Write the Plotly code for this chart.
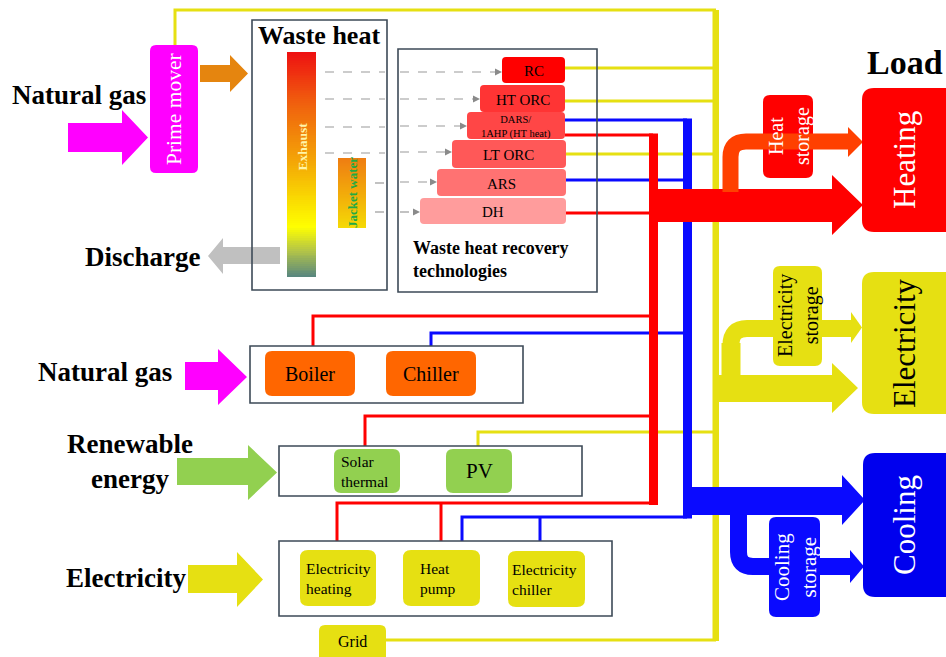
import numpy as np
import plotly.graph_objects as go

# ---------------- data (labels) ----------------
source_labels = ["Natural gas", "Natural gas", "Renewable<br>energy", "Electricity"]
prime_label = "Prime mover"
waste_title = "Waste heat"
waste_streams = ["Exhaust", "Jacket water"]
discharge_label = "Discharge"
tech_labels = ["RC", "HT ORC", "DARS/<br>1AHP (HT heat)", "LT ORC", "ARS", "DH"]
tech_output = ["power", "power", "cool+heat", "power", "cool", "heat"]
tech_caption = "Waste heat recovery<br>technologies"
gas_devices = ["Boiler", "Chiller"]
renew_devices = ["Solar<br>thermal", "PV"]
elec_devices = ["Electricity<br>heating", "Heat<br>pump", "Electricity<br>chiller"]
grid_label = "Grid"
load_title = "Load"
load_labels = ["Heating", "Electricity", "Cooling"]
storage_labels = ["Heat<br>storage", "Electricity<br>storage", "Cooling<br>storage"]

# ---------------- styles ----------------
SERIF = "Liberation Serif"
RED = "#ff0000"
BLUE = "#0a0aff"
YEL = "#e6e012"
MAG = "#ff00ff"
GREEN = "#92d050"
ORANGE = "#ff6600"
EDGE = "#3d4a57"

W, H = 946, 657
fig = go.Figure()
shapes = []
ann = []


def rrect(x0, y0, x1, y1, r):
    return (f"M{x0+r},{y0} L{x1-r},{y0} Q{x1},{y0} {x1},{y0+r} L{x1},{y1-r} "
            f"Q{x1},{y1} {x1-r},{y1} L{x0+r},{y1} Q{x0},{y1} {x0},{y1-r} "
            f"L{x0},{y0+r} Q{x0},{y0} {x0+r},{y0} Z")


def add_rrect(x0, y0, x1, y1, r, fill, line=None, lw=0):
    shapes.append(dict(type="path", path=rrect(x0, y0, x1, y1, r), fillcolor=fill,
                       line=dict(color=line or fill, width=lw)))


def add_box(x0, y0, x1, y1):
    shapes.append(dict(type="rect", x0=x0, y0=y0, x1=x1, y1=y1,
                       fillcolor="rgba(0,0,0,0)", line=dict(color=EDGE, width=1.6)))


def add_line(pts, color, width, dash=None):
    p = "M" + " L".join(f"{x},{y}" for x, y in pts)
    shapes.append(dict(type="path", path=p, fillcolor="rgba(0,0,0,0)",
                       line=dict(color=color, width=width, dash=dash or "solid")))


def poly(pts, color):
    p = "M" + " L".join(f"{x},{y}" for x, y in pts) + " Z"
    shapes.append(dict(type="path", path=p, fillcolor=color, line=dict(color=color, width=0)))


def right_arrow(x0, xb, xt, b0, b1, h0, h1, color):
    poly([(x0, b0), (xb, b0), (xb, h0), (xt, (h0 + h1) / 2), (xb, h1), (xb, b1), (x0, b1)], color)


def left_arrow(x0, xb, xt, b0, b1, h0, h1, color):
    poly([(x0, b0), (xb, b0), (xb, h0), (xt, (h0 + h1) / 2), (xb, h1), (xb, b1), (x0, b1)], color)


def text(x, y, s, size, color="black", bold=False, angle=0, xanchor="center", align="center"):
    if bold:
        s = "<b>" + s.replace("<br>", "</b><br><b>") + "</b>"
    ann.append(dict(x=x, y=y, text=s, showarrow=False, textangle=angle, xanchor=xanchor,
                    yanchor="middle", align=align,
                    font=dict(family=SERIF, size=size, color=color)))


def gradient(x0, x1, y0, y1, stops):
    n = 120
    edges = np.linspace(y0, y1, n + 1)
    z = [[v] for v in np.linspace(0, 1, n)]
    fig.add_trace(go.Heatmap(z=z, x=[x0, x1], y=edges, colorscale=stops, zmin=0, zmax=1,
                             showscale=False, hoverinfo="skip"))


# ---------------- gradients ----------------
gradient(287, 316, 52, 277, [[0, "#ee1111"], [0.22, "#f05e0e"], [0.5, "#f4aa06"],
                             [0.7, "#fbe800"], [0.78, "#ffff00"], [0.88, "#b8c844"],
                             [1, "#5a887e"]])
gradient(338, 366, 158, 228, [[0, "#ef7d12"], [0.5, "#f2aa0a"], [1, "#f5da06"]])

# ---------------- thin lines ----------------
add_line([(175, 45), (175, 10), (716, 10)], YEL, 3)
# from recovery technologies
add_line([(565, 68), (716, 68)], YEL, 3)
add_line([(565, 101), (716, 101)], YEL, 3)
add_line([(565, 154), (716, 154)], YEL, 3)
add_line([(565, 120), (687, 120)], BLUE, 3)
add_line([(565, 180), (687, 180)], BLUE, 3)
add_line([(565, 135), (653, 135)], RED, 3)
add_line([(565, 213), (653, 213)], RED, 3)
# devices
add_line([(313, 346), (313, 316), (653, 316)], RED, 3)
add_line([(431, 346), (431, 333), (687, 333)], BLUE, 3)
add_line([(365, 446), (365, 416), (653, 416)], RED, 3)
add_line([(478, 446), (478, 432), (716, 432)], YEL, 3)
add_line([(337, 541), (337, 503), (653, 503)], RED, 3)
add_line([(441, 541), (441, 503)], RED, 3)
add_line([(462, 541), (462, 517), (687, 517)], BLUE, 3)
add_line([(540, 541), (540, 517)], BLUE, 3)
add_line([(386, 640), (716, 640)], YEL, 3)

# dashed heat transfer lines
for y in [72, 99, 127, 153]:
    add_line([(325, y), (385, y)], "#9a9a9a", 1.2, "dash")
for y in [183, 212]:
    add_line([(375, y), (385, y)], "#9a9a9a", 1.2, "dash")
tech_geo = [(502, 57, 565, 83, "#ff0000"), (480, 85, 565, 112, "#ff3434"),
            (467, 112, 565, 139, "#ff4646"), (452, 140, 566, 168, "#ff5858"),
            (437, 169, 566, 196, "#ff7272"), (420, 198, 566, 224, "#ff9c9c")]
dash_y = [72, 99, 126, 152, 182, 212]
for (x0, y0, x1, y1, c), y in zip(tech_geo, dash_y):
    add_line([(400, y), (x0 - 6, y)], "#9a9a9a", 1.2, "dash")
    poly([(x0 - 7, y - 3.5), (x0, y), (x0 - 7, y + 3.5)], "#8a8a8a")

# ---------------- trunks ----------------
shapes.append(dict(type="rect", x0=712.5, x1=719, y0=10, y1=641, fillcolor=YEL, line=dict(width=0)))
shapes.append(dict(type="rect", x0=649, x1=658, y0=133.5, y1=505, fillcolor=RED, line=dict(width=0)))
shapes.append(dict(type="rect", x0=683, x1=692, y0=118.5, y1=518.5, fillcolor=BLUE, line=dict(width=0)))

# ---------------- big arrows to loads ----------------
# electricity
add_line([(731, 380), (731, 343), ], YEL, 19)
shapes.append(dict(type="path", path="M731,345 Q731,328.5 747,328.5 L853,328.5",
                   fillcolor="rgba(0,0,0,0)", line=dict(color=YEL, width=17)))
poly([(851, 312), (862, 327.5), (851, 343)], YEL)
right_arrow(716, 832, 858, 375, 402, 363, 413, YEL)
# heating
right_arrow(649, 832, 863, 189, 222, 175, 235, RED)
# cooling
right_arrow(684, 842, 865, 487, 515, 475, 525, BLUE)
shapes.append(dict(type="path", path="M738.5,512 L738.5,552 Q738.5,566.5 753,566.5 L851,566.5",
                   fillcolor="rgba(0,0,0,0)", line=dict(color=BLUE, width=17)))
poly([(850, 550), (864, 566.5), (850, 583)], BLUE)

# heat storage
add_rrect(763, 95, 813, 178, 7, RED)
shapes.append(dict(type="path", path="M730.5,192 L730.5,157 Q730.5,141.5 746,141.5 L849,141.5",
                   fillcolor="rgba(0,0,0,0)", line=dict(color="#ff4000", width=16)))
poly([(848, 127), (863, 142), (848, 157)], "#ff4000")
# electricity storage / cooling storage
add_rrect(773, 266, 822, 366, 7, YEL)
add_rrect(769, 517, 820, 617, 7, BLUE)

# load boxes
add_rrect(862, 88, 960, 232, 12, RED)
add_rrect(862, 272, 960, 414, 12, YEL)
add_rrect(863, 453, 960, 597, 12, "#0000ee")

# ---------------- left side ----------------
add_rrect(150, 45, 198, 173, 6, MAG)
right_arrow(68, 122, 148, 123, 152, 110, 165, MAG)
right_arrow(200, 230, 248, 65, 82, 55, 92, "#e5850f")
left_arrow(280, 223, 208, 247, 264, 238, 274, "#c0c0c0")
right_arrow(185, 218, 247, 362, 390, 349, 405, MAG)
right_arrow(177, 248, 277, 458, 485, 445, 500, GREEN)
right_arrow(188, 237, 263, 565, 593, 552, 607, YEL)

# outline boxes
add_box(252, 20, 387, 290)
add_box(398, 49, 597, 292)
add_box(250, 346, 523, 403)
add_box(279, 446, 582, 496)
add_box(279, 541, 612, 616)

# tech boxes
for (x0, y0, x1, y1, c) in tech_geo:
    add_rrect(x0, y0, x1, y1, 4, c)

# devices
add_rrect(265, 351, 355, 396, 7, ORANGE)
add_rrect(386, 351, 476, 396, 7, ORANGE)
add_rrect(334, 449, 400, 493, 7, GREEN)
add_rrect(446, 449, 512, 493, 7, GREEN)
add_rrect(300, 550, 376, 606, 8, YEL)
add_rrect(403, 550, 480, 606, 8, YEL)
add_rrect(508, 551, 585, 607, 8, YEL)
add_rrect(319, 625, 386, 668, 6, YEL)

# ---------------- texts ----------------
text(79, 95, source_labels[0], 27, bold=True)
text(105, 372, source_labels[1], 27, bold=True)
text(130, 461, source_labels[2], 27, bold=True)
text(126, 578, source_labels[3], 27, bold=True)
text(174, 109, prime_label, 21.5, "white", angle=-90)
text(319, 35, waste_title, 26, bold=True)
text(301.5, 147, waste_streams[0], 13.5, "#fff4a8", bold=True, angle=-90)
text(352, 193, waste_streams[1], 13, "#22aa44", bold=True, angle=-90)
text(142, 257, discharge_label, 27, bold=True)
tech_x = [533.5, 522.5, 516, 508.5, 501.5, 493]
tech_fs = [15, 15, 10.5, 15, 15, 15]
for (x0, y0, x1, y1, c), lab, xc, fs in zip(tech_geo, tech_labels, tech_x, tech_fs):
    text(xc, (y0 + y1) / 2 + 1, lab, fs)
text(411, 259, tech_caption, 18, bold=True, xanchor="left", align="left")
text(310, 374, gas_devices[0], 20)
text(431, 374, gas_devices[1], 20)
text(339, 471, renew_devices[0], 15.5, xanchor="left", align="left")
text(479, 471, renew_devices[1], 21)
text(304, 578, elec_devices[0], 15.5, xanchor="left", align="left")
text(418, 578, elec_devices[1], 15.5, xanchor="left", align="left")
text(510, 579, elec_devices[2], 15.5, xanchor="left", align="left")
text(352, 641, grid_label, 16)
text(905, 62, load_title, 34, bold=True)
text(904, 160, load_labels[0], 31, "white", angle=-90)
text(904, 343, load_labels[1], 31, "black", angle=-90)
text(904, 525, load_labels[2], 31, "white", angle=-90)
text(789, 136, storage_labels[0], 20, "white", angle=-90)
text(798, 316, storage_labels[1], 20, "black", angle=-90)
text(795, 567, storage_labels[2], 21, "white", angle=-90)

fig.update_layout(
    width=W, height=H, margin=dict(l=0, r=0, t=0, b=0),
    paper_bgcolor="white", plot_bgcolor="white",
    xaxis=dict(range=[0, W], visible=False, fixedrange=True),
    yaxis=dict(range=[H, 0], visible=False, fixedrange=True),
    shapes=shapes, annotations=ann, showlegend=False,
)
fig.write_html("out.html", config={"displayModeBar": False},
               post_script="document.body.style.margin='0';document.body.style.overflow='hidden';")
